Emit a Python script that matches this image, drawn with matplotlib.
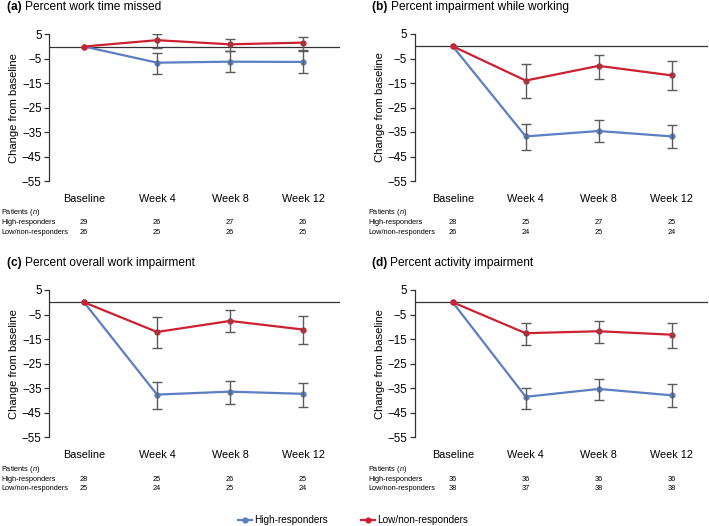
import matplotlib
matplotlib.use("Agg")
import matplotlib.pyplot as plt
from matplotlib.lines import Line2D

plt.rcParams['font.family'] = ['Liberation Sans', 'DejaVu Sans']
plt.rcParams['mathtext.fontset'] = 'custom'
plt.rcParams['mathtext.it'] = 'Liberation Sans:italic'
plt.rcParams['mathtext.rm'] = 'Liberation Sans'
plt.rcParams['mathtext.bf'] = 'Liberation Sans:bold'

categories = ["Baseline", "Week 4", "Week 8", "Week 12"]
yticks = [5, -5, -15, -25, -35, -45, -55]

titles = [("(a)", "Percent work time missed"),
          ("(b)", "Percent impairment while working"),
          ("(c)", "Percent overall work impairment"),
          ("(d)", "Percent activity impairment")]

# High-responders: mean, error lower, error upper
high_mean = [[0, -6.6, -6.2, -6.3],
             [0, -36.8, -34.6, -36.8],
             [0, -37.6, -36.4, -37.3],
             [0, -38.5, -35.3, -37.9]]
high_lo = [[0, -11.1, -10.5, -10.8],
           [0, -42.5, -39.1, -41.7],
           [0, -43.3, -41.3, -42.5],
           [0, -43.3, -39.9, -42.5]]
high_hi = [[0, -2.6, -1.9, -1.8],
           [0, -31.6, -30.1, -32.3],
           [0, -32.3, -32.0, -33.0],
           [0, -34.9, -31.4, -33.4]]

low_mean = [[0, 2.6, 0.9, 1.6],
            [0, -14.0, -8.0, -11.9],
            [0, -12.1, -7.6, -11.1],
            [0, -12.6, -11.8, -13.2]]
low_lo = [[0, -0.6, -2.0, -1.4],
          [0, -21.0, -13.3, -17.9],
          [0, -18.6, -12.3, -17.1],
          [0, -17.5, -16.7, -18.5]]
low_hi = [[0, 5.0, 3.2, 3.9],
          [0, -7.4, -3.6, -5.9],
          [0, -6.1, -3.3, -5.7],
          [0, -8.4, -7.7, -8.4]]

n_high = [[29, 26, 27, 26], [28, 25, 27, 25], [28, 25, 26, 25], [36, 36, 36, 36]]
n_low = [[26, 25, 26, 25], [26, 24, 25, 24], [25, 24, 25, 24], [38, 37, 38, 38]]

BLUE = "#5b7fc0"
RED = "#cc2131"
GRAY = "#5a5a5a"

W, H = 709, 526
fig = plt.figure(figsize=(W / 100, H / 100), dpi=100)
renderer = fig.canvas.get_renderer()

# axes boxes in pixels: left, top(5), right, bottom(-55)
boxes = [(49.3, 34.3, 340, 181),
         (414.7, 34.0, 708, 181),
         (49.3, 290.0, 340, 437.3),
         (414.7, 290.0, 708, 437.3)]
label_x = [1, 368, 1, 368]
title_x = [7, 372, 7, 372]

for i in range(4):
    l, t, r, b = boxes[i]
    ax = fig.add_axes([l / W, 1 - b / H, (r - l) / W, (b - t) / H])
    x = list(range(len(categories)))
    bx = 84 if i % 2 == 0 else 452.7
    step = 73
    ax.set_xlim((l - bx) / step, (r - bx) / step)
    ax.set_ylim(-55, 5)
    ax.axhline(0, color="#333333", lw=0.9, zorder=1)
    for mean, lo, hi, col in [(high_mean[i], high_lo[i], high_hi[i], BLUE),
                              (low_mean[i], low_lo[i], low_hi[i], RED)]:
        ax.plot(x, mean, color=col, lw=1.6, marker="o", ms=3.5, zorder=3)
        yerr = [[m - a for m, a in zip(mean[1:], lo[1:])],
                [c - m for m, c in zip(mean[1:], hi[1:])]]
        ax.errorbar(x[1:], mean[1:], yerr=yerr, fmt="none", ecolor=GRAY,
                    elinewidth=1.0, capsize=3.5, capthick=1.0, zorder=4)
    for s in ["top", "right", "bottom"]:
        ax.spines[s].set_visible(False)
    ax.spines["left"].set_color("#333333")
    ax.spines["left"].set_linewidth(0.9)
    ax.set_yticks(yticks)
    ax.set_yticklabels([str(v).replace("-", "\u2212") for v in yticks], fontsize=8.3)
    ax.tick_params(axis="y", length=3.5, width=0.9, color="#333333", pad=2)
    ax.set_xticks(x)
    ax.set_xticklabels(categories, fontsize=7.8)
    ax.tick_params(axis="x", length=0, pad=9)
    ax.set_ylabel("Change from baseline", fontsize=8.1, labelpad=2)

    # title: bold letter + regular text
    ty = t - 27
    tb = fig.text(title_x[i] / W, 1 - ty / H, titles[i][0] + " ", fontsize=8.6,
                  fontweight="bold", va="center", ha="left")
    wb = tb.get_window_extent(renderer).width
    fig.text((title_x[i] + wb) / W, 1 - ty / H, titles[i][1], fontsize=8.6,
             va="center", ha="left")

    # patients table
    py = b + 32
    fig.text(label_x[i] / W, 1 - py / H, "Patients ($\\mathit{n}$)", fontsize=5.3,
             va="center", ha="left")
    fig.text(label_x[i] / W, 1 - (py + 9.8) / H, "High-responders", fontsize=5.3,
             va="center", ha="left")
    fig.text(label_x[i] / W, 1 - (py + 19.4) / H, "Low/non-responders", fontsize=5.3,
             va="center", ha="left")
    for k in range(4):
        xp = ax.transData.transform((x[k], 0))[0]
        fig.text(xp / W, 1 - (py + 9.8) / H, str(n_high[i][k]), fontsize=5.3,
                 va="center", ha="center")
        fig.text(xp / W, 1 - (py + 19.4) / H, str(n_low[i][k]), fontsize=5.3,
                 va="center", ha="center")

handles = [Line2D([], [], color=BLUE, lw=1.6, marker="o", ms=3.5),
           Line2D([], [], color=RED, lw=1.6, marker="o", ms=3.5)]
fig.legend(handles, ["High-responders", "Low/non-responders"], loc="center",
           bbox_to_anchor=(353 / W, 1 - 520 / H), ncol=2, frameon=False,
           fontsize=7.2, handlelength=1.4, handletextpad=0.25, columnspacing=3.3)

fig.savefig("out.png", dpi=100)
